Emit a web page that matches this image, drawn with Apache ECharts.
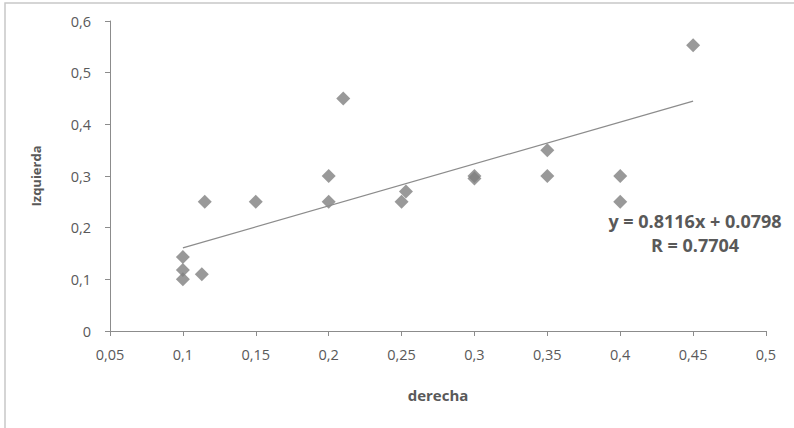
<!DOCTYPE html>
<html>
<head>
<meta charset="utf-8">
<script src="https://cdn.jsdelivr.net/npm/echarts@6/dist/echarts.min.js"></script>
<style>
  html, body { margin: 0; padding: 0; background: #fff; }
  #chart { width: 794px; height: 428px; }
</style>
</head>
<body>
<div id="chart"></div>
<script>
// derecha (x) vs izquierda (y)
const derecha = [0.1, 0.1, 0.1, 0.113, 0.115, 0.15, 0.2, 0.2, 0.21, 0.25, 0.253, 0.3, 0.3, 0.35, 0.35, 0.4, 0.4, 0.45];
const izquierda = [0.143, 0.118, 0.1, 0.11, 0.25, 0.25, 0.3, 0.25, 0.45, 0.25, 0.27, 0.3, 0.295, 0.35, 0.3, 0.3, 0.25, 0.553];

const slope = 0.8116;
const intercept = 0.0798;
const trendX = [0.1, 0.45];
const eqText = "y = 0.8116x + 0.0798";
const rText = "R = 0.7704";

const fmt = (v) => String(+v.toFixed(2)).replace(".", ",");

const chart = echarts.init(document.getElementById("chart"), null, { renderer: "svg" });

const points = derecha.map((x, i) => [x, izquierda[i]]);
const trend = trendX.map((x) => [x, slope * x + intercept]);

const labelFont = { color: "#595959", fontSize: 14.5, fontFamily: "Open Sans" };
const eqFont = "bold 18px 'Open Sans', sans-serif";

chart.setOption({
  animation: false,
  grid: { left: 110, right: 28, top: 21, bottom: 97 },
  graphic: [
    {
      type: "rect",
      shape: { x: 5, y: 3, width: 800, height: 440 },
      style: { fill: "none", stroke: "#c8c8c8", lineWidth: 1.5 },
      silent: true
    },
    {
      type: "text",
      x: 695,
      y: 221,
      style: { text: eqText, align: "center", verticalAlign: "middle", font: eqFont, fill: "#595959" }
    },
    {
      type: "text",
      x: 695,
      y: 245,
      style: { text: rText, align: "center", verticalAlign: "middle", font: eqFont, fill: "#595959" }
    }
  ],
  xAxis: {
    type: "value",
    min: 0.05,
    max: 0.5,
    interval: 0.05,
    name: "derecha",
    nameLocation: "middle",
    nameGap: 56,
    nameTextStyle: { color: "#595959", fontWeight: "bold", fontSize: 15, fontFamily: "Open Sans" },
    splitLine: { show: false },
    axisLine: { lineStyle: { color: "#8c8c8c" } },
    axisTick: { show: true, length: 5, lineStyle: { color: "#8c8c8c" } },
    axisLabel: Object.assign({ margin: 16, formatter: fmt }, labelFont)
  },
  yAxis: {
    type: "value",
    min: 0,
    max: 0.6,
    interval: 0.1,
    name: "Izquierda",
    nameLocation: "middle",
    nameGap: 68,
    nameTextStyle: { color: "#595959", fontWeight: "bold", fontSize: 13, fontFamily: "Open Sans" },
    splitLine: { show: false },
    axisLine: { show: true, lineStyle: { color: "#8c8c8c" } },
    axisTick: { show: true, length: 5, lineStyle: { color: "#8c8c8c" } },
    axisLabel: Object.assign({ margin: 19, formatter: fmt }, labelFont)
  },
  series: [
    {
      type: "scatter",
      data: points,
      symbol: "diamond",
      symbolSize: 14,
      itemStyle: { color: "#7f7f7f" }
    },
    {
      type: "line",
      data: trend,
      symbol: "none",
      lineStyle: { color: "#8c8c8c", width: 1.2 }
    }
  ]
});
</script>
</body>
</html>
